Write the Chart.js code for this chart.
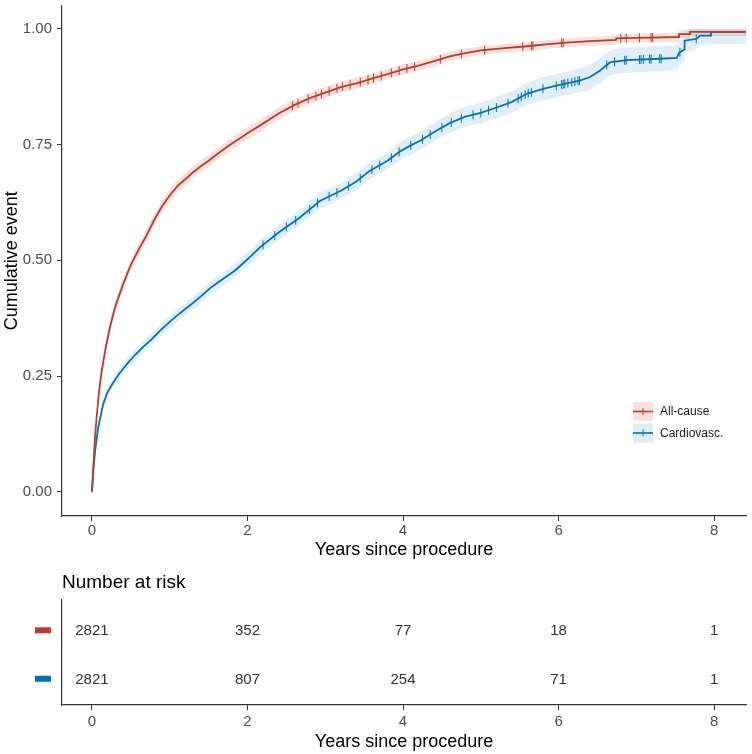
<!DOCTYPE html>
<html>
<head>
<meta charset="utf-8">
<script src="https://cdn.jsdelivr.net/npm/chart.js@4"></script>
<style>
  html, body { margin: 0; padding: 0; background: #ffffff; }
  #wrap { position: relative; width: 752px; height: 754px; }
  #c1 { position: absolute; left: 0; top: 0; }
  #c2 { position: absolute; left: 0; top: 560px; }
</style>
</head>
<body>
<div id="wrap">
  <canvas id="c1" width="752" height="560"></canvas>
  <canvas id="c2" width="752" height="194"></canvas>
</div>
<script>
// ---------------- data ----------------
const seriesNames = ['All-cause', 'Cardiovasc.'];
const xTicks = [0, 2, 4, 6, 8];
const yTicks = [0, 0.25, 0.5, 0.75, 1];

const redTime = [0,0.02,0.04,0.06,0.09,0.125,0.17,0.23,0.3,0.4,0.5,0.6,0.7,0.8,0.9,1.0,1.1,1.2,1.3,1.4,1.5,1.6,1.7,1.8,1.9,2.0,2.2,2.4,2.6,2.8,3.0,3.2,3.4,3.6,3.8,4.0,4.2,4.4,4.6,4.8,5.0,5.3,5.6,5.9,6.1,6.4,6.74,6.74,7.0,7.55,7.55,7.69,7.69,8.41];
const redEst  = [0,0.06,0.12,0.16,0.215,0.26,0.305,0.355,0.40,0.448,0.49,0.523,0.553,0.587,0.616,0.64,0.66,0.675,0.69,0.703,0.715,0.728,0.74,0.752,0.763,0.774,0.795,0.817,0.835,0.85,0.862,0.874,0.882,0.892,0.902,0.912,0.92,0.93,0.94,0.947,0.953,0.958,0.962,0.967,0.97,0.973,0.976,0.979,0.98,0.982,0.988,0.988,0.993,0.993];
const redLow  = [0,0.055,0.11,0.15,0.203,0.248,0.293,0.342,0.387,0.435,0.477,0.51,0.54,0.574,0.603,0.627,0.647,0.662,0.677,0.69,0.702,0.715,0.727,0.739,0.75,0.761,0.782,0.804,0.822,0.838,0.85,0.862,0.87,0.88,0.891,0.901,0.909,0.919,0.93,0.937,0.943,0.948,0.952,0.957,0.96,0.963,0.966,0.969,0.97,0.972,0.978,0.978,0.984,0.984];
const redHigh = [0,0.065,0.13,0.17,0.227,0.273,0.318,0.368,0.413,0.461,0.503,0.536,0.566,0.6,0.629,0.653,0.673,0.688,0.703,0.716,0.728,0.741,0.753,0.765,0.776,0.787,0.808,0.83,0.847,0.862,0.874,0.886,0.894,0.903,0.913,0.923,0.931,0.94,0.95,0.957,0.962,0.967,0.971,0.976,0.979,0.982,0.985,0.988,0.989,0.991,0.996,0.996,1.0,1.0];

const blueTime = [0,0.02,0.04,0.08,0.145,0.2,0.27,0.35,0.45,0.55,0.66,0.77,0.87,1.0,1.09,1.2,1.3,1.4,1.52,1.62,1.73,1.84,1.94,2.05,2.16,2.4,2.67,2.93,3.2,3.4,3.57,3.8,3.96,4.1,4.22,4.4,4.6,4.8,5.0,5.24,5.4,5.6,5.8,6.0,6.27,6.4,6.53,6.66,6.87,7.3,7.52,7.55,7.62,7.62,7.77,7.82,7.96,7.96,8.41];
const blueEst  = [0,0.05,0.088,0.139,0.19,0.215,0.235,0.255,0.276,0.295,0.313,0.33,0.347,0.367,0.38,0.395,0.408,0.422,0.44,0.452,0.465,0.478,0.493,0.51,0.528,0.56,0.592,0.628,0.65,0.67,0.693,0.715,0.735,0.748,0.758,0.777,0.796,0.81,0.818,0.832,0.842,0.86,0.87,0.878,0.888,0.895,0.909,0.927,0.932,0.935,0.937,0.948,0.955,0.974,0.978,0.985,0.985,0.993,0.993];
const blueLow  = [0,0.045,0.08,0.13,0.18,0.205,0.224,0.244,0.265,0.283,0.301,0.318,0.335,0.354,0.367,0.382,0.395,0.408,0.426,0.438,0.451,0.463,0.478,0.495,0.513,0.544,0.576,0.611,0.633,0.652,0.675,0.697,0.716,0.729,0.738,0.757,0.775,0.788,0.796,0.809,0.819,0.836,0.845,0.853,0.862,0.868,0.882,0.9,0.905,0.908,0.91,0.922,0.93,0.95,0.955,0.965,0.965,0.967,0.967];
const blueHigh = [0,0.055,0.096,0.148,0.2,0.225,0.246,0.266,0.287,0.307,0.325,0.342,0.359,0.38,0.393,0.408,0.421,0.436,0.454,0.466,0.479,0.493,0.508,0.525,0.543,0.576,0.608,0.645,0.667,0.688,0.711,0.733,0.754,0.767,0.778,0.797,0.817,0.832,0.84,0.855,0.865,0.884,0.895,0.903,0.914,0.922,0.936,0.954,0.959,0.962,0.964,0.974,0.98,0.998,1.0,1.0,1.0,1.0,1.0];

const redCensor  = [2.58,2.65,2.78,2.88,2.95,3.05,3.15,3.22,3.32,3.45,3.55,3.62,3.72,3.85,3.95,4.05,4.15,4.48,4.75,5.05,5.54,5.65,5.67,6.04,6.06,6.8,6.87,7.04,7.19,7.21];
const blueCensor = [2.2,2.35,2.5,2.62,2.8,2.9,3.05,3.15,3.3,3.45,3.6,3.7,3.85,3.95,4.1,4.25,4.35,4.5,4.62,4.75,4.9,5.0,5.1,5.2,5.35,5.48,5.52,5.57,5.61,5.65,5.8,5.97,6.04,6.06,6.08,6.12,6.17,6.21,6.25,6.27,6.62,6.72,6.85,6.87,7.04,7.06,7.09,7.17,7.19,7.3,7.32,7.56,7.77];

const riskTimes   = [0, 2, 4, 6, 8];
const riskAllCause = [2821, 352, 77, 18, 1];
const riskCardio   = [2821, 807, 254, 71, 1];

// ---------------- styling ----------------
const RED = '#BC3C29', BLUE = '#0072B5';
const RED_BAND = 'rgba(188,60,41,0.15)', BLUE_BAND = 'rgba(0,114,181,0.12)';
const FONT = '"Liberation Sans", Arial, Helvetica, sans-serif';
const AXIS = '#333333';

function pts(t, v) { return t.map((x, i) => ({x: x, y: v[i]})); }
// place a censor mark on the drawn curve (value of the curve at that time)
function onCurve(times, t, v) {
  return times.map(c => {
    let k = 0;
    while (k < t.length - 1 && t[k + 1] <= c) k++;
    if (k >= t.length - 1) return {x: c, y: v[v.length - 1]};
    const a = t[k], b = t[k + 1];
    const f = b === a ? 0 : (c - a) / (b - a);
    return {x: c, y: v[k] + f * (v[k + 1] - v[k])};
  });
}

const X_MIN = -0.385, X_MAX = 8.41;

function xScale(titleText, tickPad, titlePadBottom) {
  return {
    type: 'linear', min: X_MIN, max: X_MAX,
    afterBuildTicks: s => { s.ticks = xTicks.map(v => ({value: v})); },
    ticks: { font: {family: FONT, size: 15}, color: '#4d4d4d', padding: tickPad, maxRotation: 0,
             callback: v => String(v) },
    grid: { display: true, drawOnChartArea: false, drawTicks: true, tickLength: 5, color: AXIS, tickWidth: 1 },
    border: { display: true, color: AXIS, width: 1.2 },
    title: { display: true, text: titleText, color: '#000', font: {family: FONT, size: 18, lineHeight: 1.1},
             padding: {top: 0, bottom: titlePadBottom} }
  };
}

// ---------------- main chart ----------------
const legendPlugin = {
  id: 'kmLegend',
  afterDraw(chart) {
    const ctx = chart.ctx;
    const items = [[RED, RED_BAND, seriesNames[0], 402], [BLUE, BLUE_BAND, seriesNames[1], 423.5]];
    ctx.save();
    items.forEach(([c, band, label, y]) => {
      ctx.fillStyle = band;
      ctx.fillRect(633, y, 20, 19);
      ctx.strokeStyle = c; ctx.lineWidth = 1.6;
      ctx.beginPath(); ctx.moveTo(633, y + 9.5); ctx.lineTo(653, y + 9.5); ctx.stroke();
      ctx.lineWidth = 1;
      ctx.beginPath(); ctx.moveTo(643, y + 6); ctx.lineTo(643, y + 13); ctx.stroke();
      ctx.fillStyle = '#1a1a1a';
      ctx.font = '12px ' + FONT;
      ctx.textBaseline = 'middle'; ctx.textAlign = 'left';
      ctx.fillText(label, 660, y + 10);
    });
    ctx.restore();
  }
};

new Chart(document.getElementById('c1'), {
  type: 'line',
  data: {
    datasets: [
      { label: 'allcause', data: pts(redTime, redEst), borderColor: RED, borderWidth: 1.8, pointRadius: 0, fill: false, order: 0, tension: 0 },
      { label: 'cardio', data: pts(blueTime, blueEst), borderColor: BLUE, borderWidth: 1.8, pointRadius: 0, fill: false, order: 0, tension: 0 },
      { label: 'rc', data: onCurve(redCensor, redTime, redEst), showLine: false, pointStyle: 'line', rotation: 90, pointRadius: 4.5, pointBorderWidth: 1, borderColor: RED, pointBorderColor: RED, order: 1 },
      { label: 'bc', data: onCurve(blueCensor, blueTime, blueEst), showLine: false, pointStyle: 'line', rotation: 90, pointRadius: 4.5, pointBorderWidth: 1, borderColor: BLUE, pointBorderColor: BLUE, order: 1 },
      { label: 'rh', data: pts(redTime, redHigh), borderWidth: 0, pointRadius: 0, fill: false, order: 3, tension: 0 },
      { label: 'rl', data: pts(redTime, redLow), borderWidth: 0, pointRadius: 0, fill: 4, backgroundColor: RED_BAND, order: 3, tension: 0 },
      { label: 'bh', data: pts(blueTime, blueHigh), borderWidth: 0, pointRadius: 0, fill: false, order: 2, tension: 0 },
      { label: 'bl', data: pts(blueTime, blueLow), borderWidth: 0, pointRadius: 0, fill: 6, backgroundColor: BLUE_BAND, order: 2, tension: 0 }
    ]
  },
  options: {
    responsive: false, animation: false, devicePixelRatio: 1,
    layout: { padding: {top: 5, right: 6, left: 0, bottom: 0} },
    plugins: { legend: {display: false}, tooltip: {enabled: false} },
    scales: {
      x: Object.assign(xScale('Years since procedure', 1, 0), { afterFit: s => { s.height = 44; s.paddingLeft = 0; s.paddingRight = 0; } }),
      y: {
        type: 'linear', min: -0.052, max: 1.05,
        afterBuildTicks: s => { s.ticks = yTicks.map(v => ({value: v})); },
        afterFit: s => { s.width = 62; s.paddingTop = 0; s.paddingBottom = 0; },
        ticks: { font: {family: FONT, size: 15}, color: '#4d4d4d', padding: 5, callback: v => Number(v).toFixed(2) },
        grid: { display: true, drawOnChartArea: false, drawTicks: true, tickLength: 5, color: AXIS },
        border: { display: true, color: AXIS, width: 1.2 },
        title: { display: true, text: 'Cumulative event', color: '#000', font: {family: FONT, size: 18}, padding: {top: 1, bottom: 0} }
      }
    }
  },
  plugins: [legendPlugin]
});

// ---------------- risk table ----------------
const riskPlugin = {
  id: 'riskTable',
  afterDraw(chart) {
    const ctx = chart.ctx, xs = chart.scales.x, ys = chart.scales.y;
    ctx.save();
    ctx.fillStyle = '#000';
    ctx.font = '19px ' + FONT;
    ctx.textAlign = 'left'; ctx.textBaseline = 'middle';
    ctx.fillText('Number at risk', 62, 23);
    const rows = [[riskAllCause, RED, 0], [riskCardio, BLUE, 1]];
    rows.forEach(([vals, col, r]) => {
      const y = ys.getPixelForValue(r);
      ctx.fillStyle = col;
      ctx.fillRect(35, y - 3, 16, 6);
      ctx.fillStyle = '#333';
      ctx.font = '15px ' + FONT;
      ctx.textAlign = 'center';
      riskTimes.forEach((t, i) => ctx.fillText(String(vals[i]), xs.getPixelForValue(t), y + 1));
    });
    ctx.restore();
  }
};

new Chart(document.getElementById('c2'), {
  type: 'line',
  data: { datasets: [{ data: [], pointRadius: 0 }] },
  options: {
    responsive: false, animation: false, devicePixelRatio: 1,
    layout: { padding: {top: 40, right: 6, left: 0, bottom: 0} },
    plugins: { legend: {display: false}, tooltip: {enabled: false} },
    scales: {
      x: Object.assign(xScale('Years since procedure', 3, 2), { afterFit: s => { s.height = 49; s.paddingLeft = 0; s.paddingRight = 0; } }),
      y: {
        type: 'linear', min: -0.625, max: 1.5417, reverse: true,
        afterFit: s => { s.width = 62; s.paddingTop = 0; s.paddingBottom = 0; },
        ticks: { display: false },
        grid: { display: false },
        border: { display: true, color: AXIS, width: 1.2 }
      }
    }
  },
  plugins: [riskPlugin]
});
</script>
</body>
</html>
